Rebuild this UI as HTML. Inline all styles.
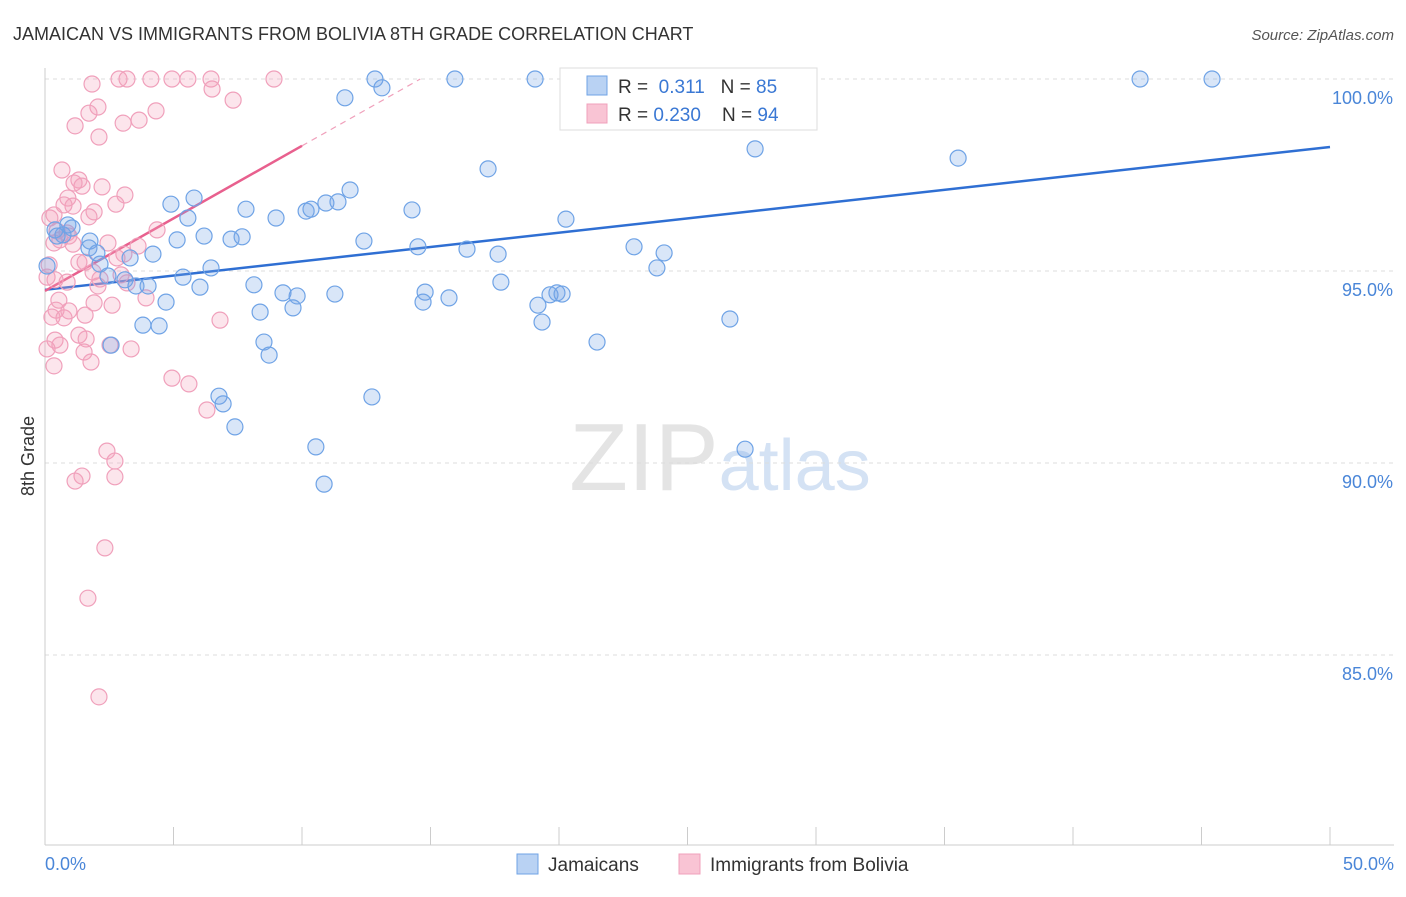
<!DOCTYPE html>
<html><head><meta charset="utf-8"><style>
body{margin:0;background:#fff;font-family:"Liberation Sans",sans-serif}
svg text{font-family:"Liberation Sans",sans-serif}
</style></head><body>
<svg id="chart" width="1406" height="892" viewBox="0 0 1406 892" xmlns="http://www.w3.org/2000/svg">
<text x="13" y="40" font-size="18" fill="#333">JAMAICAN VS IMMIGRANTS FROM BOLIVIA 8TH GRADE CORRELATION CHART</text>
<text x="1394" y="40" font-size="15" fill="#555" text-anchor="end" font-style="italic">Source: ZipAtlas.com</text>
<text x="720" y="490" font-size="96" fill="#e4e4e4" text-anchor="middle" font-family="Liberation Serif"><tspan>ZIP</tspan><tspan fill="#d4e2f4" font-family="Liberation Sans" font-size="72">atlas</tspan></text>
<g id="grid"></g>
<g id="axes"></g>
<g id="lines"></g>
<g id="points"></g>
<text transform="translate(34,456) rotate(-90)" font-size="18" fill="#333" text-anchor="middle">8th Grade</text>
<g>
<rect x="560" y="68" width="257" height="62" fill="#fff" stroke="#ddd"/>
<rect x="587" y="76" width="20" height="19" fill="#b9d2f3" stroke="#6fa3e6"/>
<rect x="587" y="104" width="20" height="19" fill="#f9c4d4" stroke="#f0a0bb"/>
<text x="618" y="93" font-size="19" fill="#333">R = <tspan fill="#3a78d4">&#160;0.311</tspan>&#160;&#160;&#160;N = <tspan fill="#3a78d4">85</tspan></text>
<text x="618" y="121" font-size="19" fill="#333">R = <tspan fill="#3a78d4">0.230</tspan>&#160;&#160;&#160;&#160;N = <tspan fill="#3a78d4">94</tspan></text>
</g>
<g>
<rect x="517" y="854" width="21" height="20" fill="#b9d2f3" stroke="#6fa3e6"/>
<text x="548" y="871" font-size="19" fill="#333">Jamaicans</text>
<rect x="679" y="854" width="21" height="20" fill="#f9c4d4" stroke="#f0a0bb"/>
<text x="710" y="871" font-size="19" fill="#333">Immigrants from Bolivia</text>
</g>
</svg>
<script>
const xTicksLabels=["0.0%","50.0%"];
const yTickValues=[100,95,90,85];
const yTickLabels=["100.0%","95.0%","90.0%","85.0%"];
const blueX=[12.84,15.95,19.07,26.54,42.61,45.41,13.11,11.67,27.63,35.53,17.24,11.87,5.80,4.90,10.93,11.40,10.16,10.35,14.28,7.82,8.99,5.56,20.27,6.19,7.24,7.67,5.14,12.41,1.75,0.70,0.39,0.89,14.51,22.92,16.42,24.09,17.63,1.71,2.02,4.20,3.31,6.46,23.81,2.14,5.37,2.45,3.11,17.74,8.13,6.03,3.54,4.01,9.26,9.81,11.28,14.79,19.65,19.92,20.12,15.72,14.71,4.71,19.18,9.65,8.37,26.65,19.34,3.81,4.44,8.52,21.48,2.57,8.72,6.77,12.72,6.93,7.39,10.54,27.24,10.86,0.08,0.47,1.05];
const blueY=[100,100,100,100,100,100,99.77,99.51,98.18,97.94,97.66,97.11,96.9,96.74,96.77,96.80,96.56,96.61,96.59,96.61,96.38,96.38,96.35,95.91,95.83,95.89,95.81,95.78,95.78,95.94,96.07,96.2,95.63,95.63,95.57,95.47,95.44,95.6,95.47,95.44,95.34,95.08,95.08,95.18,94.84,94.87,94.77,94.71,94.64,94.58,94.61,94.61,94.43,94.35,94.40,94.45,94.38,94.43,94.40,94.30,94.19,94.19,94.11,94.04,93.93,93.75,93.67,93.59,93.57,93.15,93.15,93.07,92.81,91.74,91.72,91.54,90.94,90.42,90.36,89.45,95.13,95.91,96.12];
const pinkX=[2.88,3.19,4.12,4.94,5.56,6.46,8.91,1.83,6.5,7.32,2.06,1.71,4.32,3.66,3.04,1.17,2.10,0.66,1.32,1.44,1.13,2.22,3.11,0.89,1.09,0.74,1.91,1.71,2.76,0.35,0.19,0.47,0.58,0.35,0.93,1.09,0.86,4.36,3.62,2.45,3.07,2.80,1.32,1.56,0.16,0.08,1.87,2.96,0.39,2.14,0.86,3.19,2.06,3.93,0.54,1.91,2.61,0.43,0.27,0.74,0.93,1.56,6.81,1.32,1.60,0.39,0.58,0.08,1.52,2.53,3.35,1.79,0.35,4.94,5.60,6.30,2.41,2.72,1.44,1.17,2.72,2.33,1.67,2.10];
const pinkY=[100,100,100,100,100,100,100,99.87,99.74,99.45,99.27,99.11,99.17,98.93,98.85,98.78,98.49,97.63,97.37,97.21,97.29,97.19,96.98,96.90,96.69,96.72,96.54,96.41,96.74,96.46,96.38,96.04,95.81,95.73,95.91,95.70,95.99,96.07,95.65,95.73,95.44,95.34,95.23,95.23,95.16,94.84,94.97,94.90,94.77,94.79,94.71,94.69,94.61,94.30,94.24,94.17,94.11,93.98,93.80,93.78,93.96,93.85,93.72,93.33,93.23,93.20,93.07,92.97,92.89,93.07,92.97,92.63,92.53,92.21,92.06,91.38,90.31,90.05,89.66,89.53,89.64,87.79,86.48,83.91];
const blueTrend=[94.51,98.23];   // y at x=0 and x=50
const pinkTrend=[94.48,0.378];   // intercept, slope per %
const NS="http://www.w3.org/2000/svg";
const X=v=>45+v*25.7, Y=v=>79+(100-v)*38.4;
function mk(tag,attrs,parent){const e=document.createElementNS(NS,tag);for(const k in attrs)e.setAttribute(k,attrs[k]);parent.appendChild(e);return e;}
const grid=document.getElementById('grid'),axes=document.getElementById('axes'),lines=document.getElementById('lines'),pts=document.getElementById('points');
yTickValues.forEach((v,i)=>{
 const l=mk('line',{x1:45,x2:1394,y1:Y(v),y2:Y(v),stroke:'#ddd','stroke-dasharray':'4,4'},grid);
 
 
 const t=mk('text',{x:1393,y:Y(v)+25,'font-size':18,fill:'#4a86d8','text-anchor':'end'},axes);
 t.textContent=yTickLabels[i];
 
 
});
const ax=mk('line',{x1:45,x2:45,y1:68,y2:845,stroke:'#ccc'},axes);


const bx=mk('line',{x1:45,x2:1394,y1:845,y2:845,stroke:'#ccc'},axes);


for(let i=0;i<=10;i++){
 const t=mk('line',{x1:X(i*5),x2:X(i*5),y1:827,y2:845,stroke:'#ccc'},axes);
 
 
}
[[0,'start',45],[50,'end',1394]].forEach((a,i)=>{
 const t=mk('text',{x:a[2],y:870,'font-size':18,fill:'#4a86d8','text-anchor':a[1]},axes);
 t.textContent=xTicksLabels[i];
 
 
});
const bl=mk('line',{x1:X(0),y1:Y(blueTrend[0]),x2:X(50),y2:Y(blueTrend[1]),stroke:'#2f6fd3','stroke-width':2.5},lines);


const pEnd=(100-pinkTrend[0])/pinkTrend[1];
const pl=mk('line',{x1:X(0),y1:Y(pinkTrend[0]),x2:X(10),y2:Y(pinkTrend[0]+10*pinkTrend[1]),stroke:'#e8608e','stroke-width':2.5},lines);


const pd=mk('line',{x1:X(10),y1:Y(pinkTrend[0]+10*pinkTrend[1]),x2:X(pEnd),y2:Y(100),stroke:'#f0a0bb','stroke-width':1.2,'stroke-dasharray':'6,5'},lines);


pinkX.forEach((x,i)=>{
 const c=mk('circle',{cx:X(x),cy:Y(pinkY[i]),r:8,fill:'rgba(244,160,188,0.28)',stroke:'#f0a0bb','stroke-width':1.2},pts);
 
 
});
blueX.forEach((x,i)=>{
 const c=mk('circle',{cx:X(x),cy:Y(blueY[i]),r:8,fill:'rgba(120,165,230,0.28)',stroke:'#6fa3e6','stroke-width':1.2},pts);
 
 
});
</script>
</body></html>
